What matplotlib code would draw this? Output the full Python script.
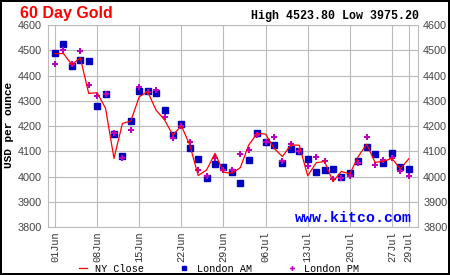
import numpy as np
import matplotlib
matplotlib.use("Agg")
import matplotlib.pyplot as plt

# 60 trading-day window, one value per trading day (index 0 = 01Jun)
london_am = [4488, 4523.8, 4439, 4463, 4459, 4279, 4325, 4167, 4080, 4221,
             4338, 4339, 4330, 4262, 4164, 4207, 4112, 4068, 3993, 4049,
             4039, 4017, 3975.2, 4064, 4171, 4137, 4124, 4054, 4108, 4100,
             4068, 4017, 4025, 4029, 3997, 4014, 4060, 4116, 4088, 4054,
             4093, 4037, 4029]
london_pm = [4447, 4503, 4445, 4496, 4364, 4318, 4325, 4171, 4074, 4183,
             4353, 4333, 4341, 4234, 4154, 4201, 4135, 4025, 4001, 4074,
             4026, 4024, 4088, 4105, 4164, 4138, 4155, 4063, 4128, 4101,
             4041, 4077, 4060, 3992, 3993, 4004, 4054, 4155, 4044, 4064,
             4074, 4022, 4001]
ny_close = [4487, 4487, 4443, 4470, 4329, 4332, 4270, 4072, 4210, 4220,
            4316, 4336, 4263, 4224, 4164, 4201, 4125, 4004, 4026, 4092,
            4017, 4013, 4035, 4125, 4171, 4168, 4112, 4079, 4125, 4124,
            4003, 4054, 4060, 3980, 4020, 4010, 4079, 4128, 4056, 4060,
            4072, 4030, 4070]

tick_pos = [0, 5, 10, 15, 20, 25, 30, 35, 40, 42]
tick_labels = ["01Jun", "08Jun", "15Jun", "22Jun", "29Jun",
               "06Jul", "13Jul", "20Jul", "27Jul", "29Jul"]
y_ticks = [3800, 3900, 4000, 4100, 4200, 4300, 4400, 4500, 4600]

x = np.arange(len(ny_close))

fig = plt.figure(figsize=(4.5, 2.75), dpi=100)
fig.patch.set_facecolor("white")
fig.patch.set_edgecolor("black")
fig.patch.set_linewidth(1.5)

ax = fig.add_axes([0.106, 0.1745, 0.822, 0.7345])

# markers first, close line on top
ax.plot(x, london_am, linestyle="none", marker="s", markersize=4.2,
        color="#0000c0", label="London AM", zorder=3)
ax.plot(x, london_pm, linestyle="none", marker="P", markersize=4.4,
        color="#c000c0", markeredgewidth=0, label="London PM", zorder=4)
ax.plot(x, ny_close, color="#ff0000", linewidth=0.9, label="NY Close", zorder=5)

ax.set_xlim(-0.87, 43.05)
ax.set_ylim(3800, 4600)
ax.set_yticks(y_ticks)
ax.set_xticks(tick_pos)
ax.set_xticklabels(tick_labels, rotation=90, family="Liberation Mono",
                   fontsize=7.4, color="#333333")
ax.grid(True, color="#bbbbbb", linewidth=0.8)
ax.set_axisbelow(True)
for s in ax.spines.values():
    s.set_color("#bbbbbb")
    s.set_linewidth(0.8)
ax.tick_params(axis="both", length=0)
ax.tick_params(axis="y", labelright=True, labelsize=7.8, labelcolor="#444444", pad=4)
ax.tick_params(axis="x", pad=3)
for lab in ax.get_yticklabels():
    lab.set_family("Liberation Sans")

# y label sits at the far left edge of the image
fig.text(0.021, 0.545, "USD per ounce", rotation=90, ha="center", va="center",
         family="Liberation Mono", fontweight="bold", fontsize=8.0)

ax.text(0.985, 0.01, "www.kitco.com", transform=ax.transAxes, ha="right",
        va="bottom", color="#0000ff", family="Liberation Mono",
        fontweight="bold", fontsize=10.8)

fig.text(0.045, 0.978, "60 Day Gold", color="#ff0000", family="Liberation Sans",
         fontweight="bold", fontsize=11.5, ha="left", va="top")
fig.text(0.931, 0.965, "High 4523.80 Low 3975.20", color="black",
         family="Liberation Mono", fontweight="bold", fontsize=8.4,
         ha="right", va="top")

h, l = ax.get_legend_handles_labels()
order = [2, 0, 1]
leg = fig.legend([h[i] for i in order], [l[i] for i in order], ncol=3,
                 loc="center", bbox_to_anchor=(0.487, 0.022), frameon=False,
                 prop={"family": "Liberation Mono", "size": 7.3},
                 handlelength=0.8, handletextpad=0.8, columnspacing=3.6,
                 borderpad=0, markerscale=0.8)

fig.savefig("out.png", dpi=100, facecolor="white", edgecolor="black")
